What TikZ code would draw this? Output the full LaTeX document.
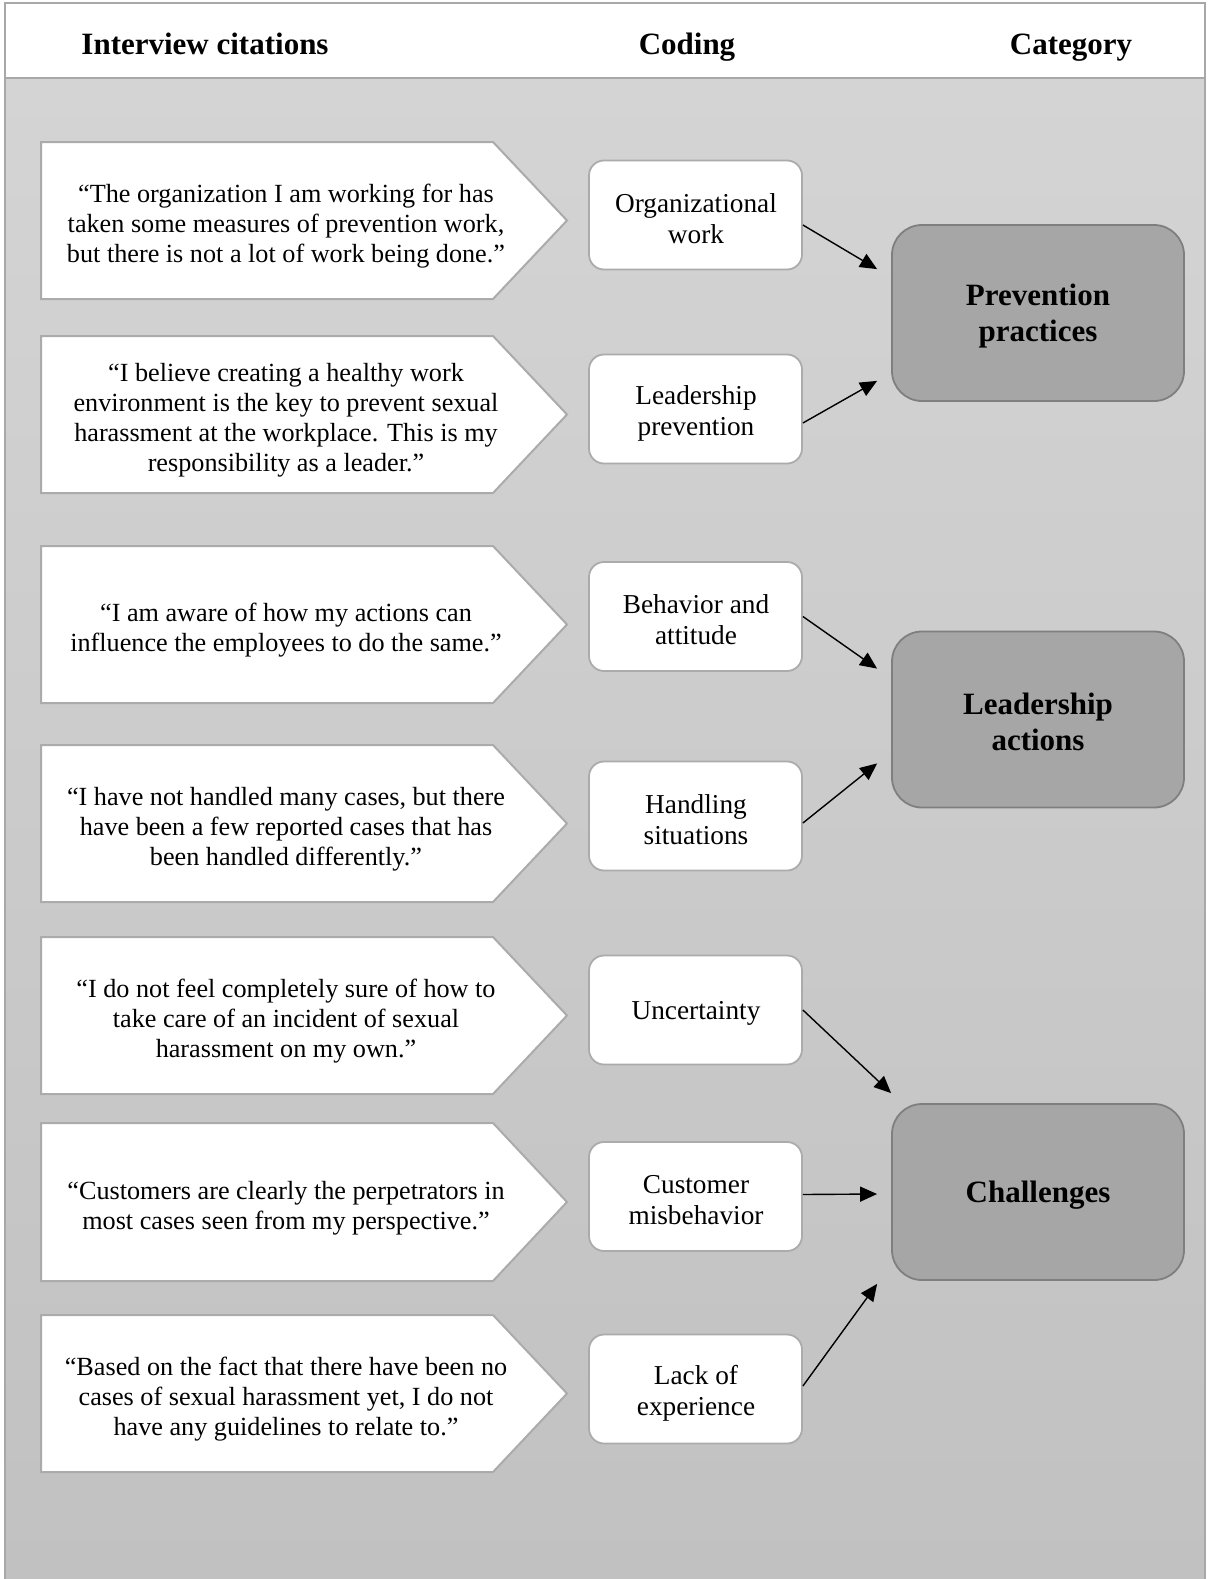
\documentclass[tikz,border=0pt]{standalone}
\usepackage{fontspec}
\setmainfont{Liberation Serif}
\usetikzlibrary{arrows.meta,calc}
\definecolor{bgtop}{HTML}{D4D4D4}
\definecolor{bgbot}{HTML}{C1C1C1}
\definecolor{framegray}{HTML}{A8A8A8}
\definecolor{shapeline}{HTML}{ABABAB}
\definecolor{catfill}{HTML}{A6A6A6}
\definecolor{catline}{HTML}{7F7F7F}
\tikzset{
  hdr/.style={font=\bfseries\fontsize{31}{34}\selectfont, inner sep=0pt, anchor=base},
  citeshape/.style={fill=white, draw=shapeline, line width=2pt, line join=miter},
  cite/.style={align=center, font=\fontsize{26.2}{30}\selectfont, inner sep=0pt},
  codebox/.style={draw=shapeline, fill=white, line width=1.8pt, rounded corners=15pt,
    minimum width=213pt, minimum height=109pt, inner sep=0pt},
  codetext/.style={align=center, font=\fontsize{27.3}{31}\selectfont, inner sep=0pt},
  catbox/.style={draw=catline, fill=catfill, line width=1.8pt, rounded corners=30pt,
    minimum width=292pt, minimum height=176pt, inner sep=0pt},
  cattext/.style={align=center, font=\bfseries\fontsize{31}{36}\selectfont, inner sep=0pt},
  link/.style={draw=black, line width=1.4pt, -{Triangle[length=17pt,width=15pt]}}
}
\newcommand{\citebox}[3]{% top, bottom, mid
  \draw[citeshape] (41,#1) -- (493,#1) -- (567,#3) -- (493,#2) -- (41,#2) -- cycle;}
\begin{document}
\begin{tikzpicture}[x=1pt,y=-1pt]
\useasboundingbox (0,0) rectangle (1208,1579);
\shade[top color=bgtop,bottom color=bgbot] (5,78) rectangle (1205,1579);
\draw[framegray, line width=1.5pt] (5,1579) -- (5,78) (1205,78) -- (1205,1579);
\draw[framegray, fill=white, line width=2pt] (5,3) rectangle (1205,78);
\node[hdr] (h1) at (205,55) {Interview citations};
\node[hdr] (h2) at (687,55) {Coding};
\node[hdr] (h3) at (1071,55) {Category};

% citations
\citebox{142}{299}{220.5}
\node[cite] (q1) at (286,226.5) {“The organization I am working for has\\taken some measures of prevention work,\\but there is not a lot of work being done.”};
\citebox{336}{493}{414.5}
\node[cite] (q2) at (286,420.5) {“I believe creating a healthy work\\environment is the key to prevent sexual\\harassment at the workplace. This is my\\responsibility as a leader.”};
\citebox{546}{703}{624.5}
\node[cite] (q3) at (286,630.5) {“I am aware of how my actions can\\influence the employees to do the same.”};
\citebox{745}{902}{823.5}
\node[cite] (q4) at (286,829.5) {“I have not handled many cases, but there\\have been a few reported cases that has\\been handled differently.”};
\citebox{937}{1094}{1015.5}
\node[cite] (q5) at (286,1021.5) {“I do not feel completely sure of how to\\take care of an incident of sexual\\harassment on my own.”};
\citebox{1123}{1281}{1202}
\node[cite] (q6) at (286,1208) {“Customers are clearly the perpetrators in\\most cases seen from my perspective.”};
\citebox{1315}{1472}{1393.5}
\node[cite] (q7) at (286,1399.5) {“Based on the fact that there have been no\\cases of sexual harassment yet, I do not\\have any guidelines to relate to.”};

% coding boxes
\node[codebox] (c1) at (695.5,215) {};
\node[codetext] (t1) at (696,219) {Organizational\\work};
\node[codebox] (c2) at (695.5,409) {};
\node[codetext] (t2) at (696,413) {Leadership\\prevention};
\node[codebox] (c3) at (695.5,616.5) {};
\node[codetext] (t3) at (696,620) {Behavior and\\attitude};
\node[codebox] (c4) at (695.5,816) {};
\node[codetext] (t4) at (696,820) {Handling\\situations};
\node[codebox] (c5) at (695.5,1010) {};
\node[codetext] (t5) at (696,1013) {Uncertainty};
\node[codebox] (c6) at (695.5,1196.5) {};
\node[codetext] (t6) at (696,1200) {Customer\\misbehavior};
\node[codebox] (c7) at (695.5,1389) {};
\node[codetext] (t7) at (696,1393) {Lack of\\experience};

% categories
\node[catbox] (k1) at (1038,313) {};
\node[cattext] (kt1) at (1038,316) {Prevention\\practices};
\node[catbox] (k2) at (1038,719.5) {};
\node[cattext] (kt2) at (1038,722) {Leadership\\actions};
\node[catbox] (k3) at (1038,1192) {};
\node[cattext] (kt3) at (1038,1195) {Challenges};

% connectors
\coordinate (e1) at ($(k1.north west)+(-14,45)$);
\coordinate (e2) at ($(k1.south west)+(-14,-21)$);
\coordinate (e3) at ($(k2.north west)+(-14,38)$);
\coordinate (e4) at ($(k2.south west)+(-14,-45)$);
\coordinate (e5) at ($(k3.north west)+(0,-10)$);
\coordinate (e6) at ($(k3.west)+(-14,2)$);
\coordinate (e7) at ($(k3.south west)+(-14,3)$);
\draw[link] ($(c1.east)+(0,10)$) -- (e1);
\draw[link] ($(c2.east)+(0,14)$) -- (e2);
\draw[link] ($(c3.east)+(0,0)$) -- (e3);
\draw[link] ($(c4.east)+(0,7)$) -- (e4);
\draw[link] (c5.east) -- (e5);
\draw[link] ($(c6.east)+(0,-2)$) -- (e6);
\draw[link] ($(c7.east)+(0,-3)$) -- (e7);
\end{tikzpicture}
\end{document}
